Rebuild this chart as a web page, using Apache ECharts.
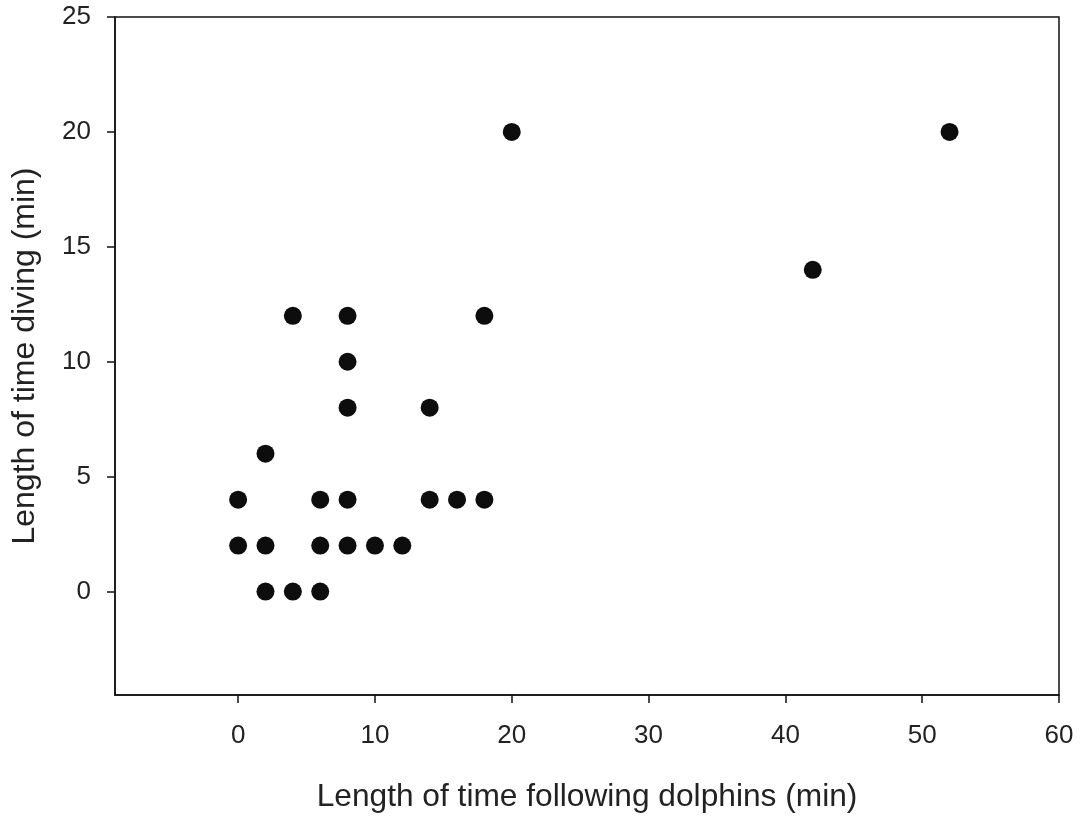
<!DOCTYPE html>
<html>
<head>
<meta charset="utf-8">
<script src="https://cdn.jsdelivr.net/npm/echarts@6/dist/echarts.min.js"></script>
<style>
  html, body { margin: 0; padding: 0; background: #fff; }
  #chart { width: 1082px; height: 818px; }
</style>
</head>
<body>
<div id="chart"></div>
<script>
// Minutes spent following dolphins vs. minutes spent diving
const followMinutes = [0, 0, 2, 2, 2, 4, 4, 6, 6, 6, 8, 8, 8, 8, 8, 10, 12, 14, 14, 16, 18, 18, 20, 42, 52];
const diveMinutes   = [4, 2, 6, 2, 0, 0, 12, 4, 2, 0, 12, 10, 8, 4, 2, 2, 2, 8, 4, 4, 12, 4, 20, 14, 20];
const xTicks = [0, 10, 20, 30, 40, 50, 60];
const yTicks = [0, 5, 10, 15, 20, 25];

const points = followMinutes.map((x, i) => [x, diveMinutes[i]]);
const ink = '#111111';
const textInk = '#222222';
const font = 'Liberation Sans, Arial, sans-serif';

const chart = echarts.init(document.getElementById('chart'));
chart.setOption({
  backgroundColor: '#ffffff',
  animation: false,
  grid: {
    left: 115, right: 23, top: 17, bottom: 119,
    show: true, borderColor: ink, borderWidth: 1.5, backgroundColor: 'transparent'
  },
  xAxis: {
    type: 'value', min: -9, max: 60,
    name: 'Length of time following dolphins (min)',
    nameLocation: 'middle', nameGap: 86,
    nameTextStyle: { fontFamily: font, fontSize: 31.7, color: textInk },
    axisLine: { show: true, onZero: false, lineStyle: { color: ink, width: 1.5 } },
    axisTick: { show: true, length: 8, inside: false, customValues: xTicks, lineStyle: { color: ink, width: 1.5 } },
    axisLabel: { customValues: xTicks, margin: 28, fontFamily: font, fontSize: 26, color: textInk },
    splitLine: { show: false }
  },
  yAxis: {
    type: 'value', min: -4.5, max: 25,
    name: 'Length of time diving (min)',
    nameLocation: 'middle', nameGap: 74, nameRotate: 90,
    nameTextStyle: { fontFamily: font, fontSize: 32, color: textInk },
    axisLine: { show: true, onZero: false, lineStyle: { color: ink, width: 1.5 } },
    axisTick: { show: true, length: 8, inside: false, customValues: yTicks, lineStyle: { color: ink, width: 1.5 } },
    axisLabel: { customValues: yTicks, margin: 24, fontFamily: font, fontSize: 26, color: textInk },
    splitLine: { show: false }
  },
  series: [{
    type: 'scatter',
    data: points,
    symbol: 'circle',
    symbolSize: 18,
    itemStyle: { color: '#0d0d0d', opacity: 1 }
  }]
});
</script>
</body>
</html>
